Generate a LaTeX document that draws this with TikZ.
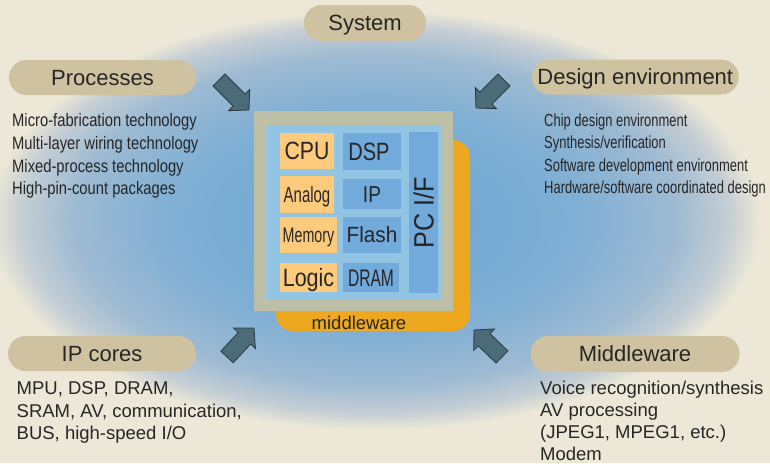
\documentclass[tikz,border=0pt]{standalone}
\usepackage{fontspec}
\usepackage{graphicx}
\setmainfont{Liberation Sans}
\newfontfamily\procfont{Liberation Sans}[FakeStretch=0.82]
\newfontfamily\desfont{Liberation Sans}[FakeStretch=0.74]
\usetikzlibrary{calc}
\definecolor{bgc}{HTML}{ECE7D7}
\definecolor{gA}{HTML}{6AA4D2}
\definecolor{gB}{HTML}{7FAFD4}
\definecolor{gC}{HTML}{9DBAD3}
\definecolor{gD}{HTML}{C5CED4}
\definecolor{pillc}{HTML}{CEC2A0}
\definecolor{framec}{HTML}{BDBFA7}
\definecolor{corec}{HTML}{92C4E3}
\definecolor{cellO}{HTML}{FECB7D}
\definecolor{cellB}{HTML}{73AADC}
\definecolor{baseO}{HTML}{EEA820}
\definecolor{arrowc}{HTML}{4C6B79}
\definecolor{arrowe}{HTML}{2E3A42}
\definecolor{txt}{HTML}{262626}
\pgfdeclareradialshading{blob}{\pgfpoint{0bp}{0bp}}{color(0bp)=(gA); color(13bp)=(gB); color(19.5bp)=(gC); color(23bp)=(gD); color(25bp)=(bgc); color(50bp)=(bgc)}
\newcommand\txtlines[1]{\begin{tabular}[t]{@{}l@{}}#1\end{tabular}}
\newcommand\blkarrow[3]{%
  \coordinate (#1t) at #2;
  \coordinate (#1p) at #3;
  \coordinate (#1b) at ($(#1p)!14pt!(#1t)$);
  \draw[blockarrow] ($(#1t)!8.5pt!90:(#1p)$) -- ($(#1b)!8.5pt!90:(#1p)$) -- ($(#1b)!15pt!90:(#1p)$) -- (#1p)
    -- ($(#1b)!15pt!-90:(#1p)$) -- ($(#1b)!8.5pt!-90:(#1p)$) -- ($(#1t)!8.5pt!-90:(#1p)$) -- cycle;
}
\begin{document}
\begin{tikzpicture}[x=1pt,y=-1pt,
  pill/.style={fill=pillc, rounded corners=17.5pt, inner sep=0pt, font=\fontsize{22}{26}\selectfont, text=txt, text height=15.75pt, text depth=0pt},
  cell/.style={inner sep=0pt, text=txt, text depth=0pt},
  ocell/.style={cell, fill=cellO},
  bcell/.style={cell, fill=cellB},
  listtext/.style={anchor=base west, inner sep=0pt, text=txt},
  blockarrow/.style={fill=arrowc, draw=arrowe, line width=0.8pt, line join=miter}]
\useasboundingbox (0,0) rectangle (770,463);
\clip (0,0) rectangle (770,463);
\fill[bgc] (0,0) rectangle (770,463);
\shade[shading=blob] (375,220) ellipse [x radius=385pt, y radius=210pt];

% chip
\node[fill=baseO, rounded corners=17pt, minimum width=194pt, minimum height=191pt, inner sep=0pt] (chipbase) at (373,235.5) {};
\node[fill=framec, minimum width=199pt, minimum height=200pt, inner sep=0pt] (chipframe) at (353.5,211) {};
\node[fill=corec, minimum width=176pt, minimum height=174pt, inner sep=0pt] (chipcore) at (354,212) {};

\node[ocell, minimum width=54pt, minimum height=36pt, font=\fontsize{25}{30}\selectfont, text height=17.9pt] (cpu) at (307,151) {\scalebox{0.85}[1]{CPU}};
\node[bcell, minimum width=58pt, minimum height=37pt, font=\fontsize{25}{30}\selectfont, text height=17.9pt] (dsp) at (372,151.5) {\hspace{-6pt}\scalebox{0.8}[1]{DSP}};
\node[ocell, minimum width=54pt, minimum height=37pt, font=\fontsize{22}{26}\selectfont, text height=15.75pt] (analog) at (307,194.5) {\scalebox{0.68}[1]{Analog}};
\node[bcell, minimum width=58pt, minimum height=30pt, font=\fontsize{23}{27}\selectfont, text height=16.5pt] (ip) at (372,194) {\scalebox{0.83}[1]{IP}};
\node[ocell, minimum width=57pt, minimum height=36pt, font=\fontsize{21}{25}\selectfont, text height=15pt] (memory) at (308.5,235) {\scalebox{0.68}[1]{Memory}};
\node[bcell, minimum width=58pt, minimum height=36pt, font=\fontsize{22}{26}\selectfont, text height=15.75pt] (flash) at (372,235) {\scalebox{0.94}[1]{Flash}};
\node[ocell, minimum width=57pt, minimum height=29pt, font=\fontsize{25}{30}\selectfont, text height=17.9pt] (logic) at (308.5,277.5) {\scalebox{0.86}[1]{Logic}};
\node[bcell, minimum width=56pt, minimum height=29pt, font=\fontsize{24}{28}\selectfont, text height=17.2pt] (dram) at (371,277.5) {\scalebox{0.65}[1]{DRAM}};
\node[bcell, minimum width=29pt, minimum height=161pt] (pcif) at (423.5,212.5) {};
\node[cell, rotate=90, font=\fontsize{28}{32}\selectfont, text height=20pt] (pciftext) at (pcif.center) {\scalebox{0.9}[1]{PC I/F}};
\node[anchor=base, inner sep=0pt, text=txt, font=\fontsize{18.5}{22}\selectfont] (mwtext) at (359,329.5) {middleware};

% pills
\node[pill, minimum width=122pt, minimum height=36pt] (system) at (365,23) {System};
\node[pill, minimum width=187pt, minimum height=35pt] (processes) at (102.5,77.5) {Processes};
\node[pill, minimum width=207pt, minimum height=35pt] (designenv) at (635.3,77) {Design environment};
\node[pill, minimum width=188pt, minimum height=35pt] (ipcores) at (102,353.5) {IP cores};
\node[pill, minimum width=209pt, minimum height=36pt] (middleware) at (635,354) {Middleware};

% lists
\node[listtext, font=\procfont\fontsize{18}{22.6}\selectfont] (proclist) at (12,126.8) {\txtlines{Micro-fabrication technology\\Multi-layer wiring technology\\Mixed-process technology\\High-pin-count packages}};
\node[listtext, font=\desfont\fontsize{17.5}{22.5}\selectfont] (deslist) at (544,126.3) {\txtlines{Chip design environment\\Synthesis/verification\\Software development environment\\Hardware/software coordinated design}};
\node[listtext, font=\fontsize{18.5}{22.5}\selectfont] (iplist) at (16.5,394.5) {\txtlines{MPU, DSP, DRAM,\\SRAM, AV, communication,\\BUS, high-speed I/O}};
\node[listtext, font=\fontsize{18.5}{22}\selectfont] (mwlist) at (540,394) {\txtlines{Voice recognition/synthesis\\AV processing\\(JPEG1, MPEG1, etc.)\\Modem}};

% block arrows
\blkarrow{atl}{(219,80)}{(249,110)}
\blkarrow{atr}{(504,80)}{(476,108)}
\blkarrow{abl}{(227,357)}{(254,328)}
\blkarrow{abr}{(502,357)}{(474,330)}
\end{tikzpicture}
\end{document}
